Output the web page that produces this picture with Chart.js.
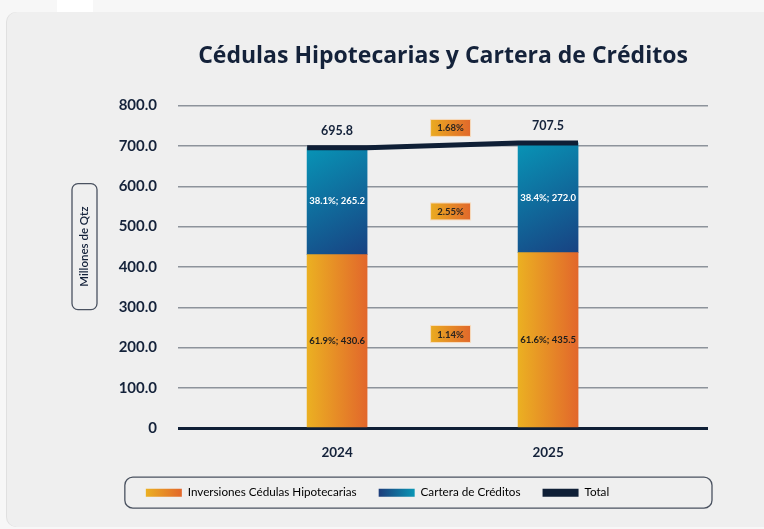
<!DOCTYPE html>
<html lang="es">
<head>
<meta charset="utf-8">
<title>Cédulas Hipotecarias y Cartera de Créditos</title>
<script src="https://cdn.jsdelivr.net/npm/chart.js@4.4.1/dist/chart.umd.min.js"></script>
<style>
  html, body { margin: 0; padding: 0; background: #f7f7f7; }
  body { width: 764px; height: 529px; position: relative; overflow: hidden; }
  .tab { position: absolute; left: 57px; top: 0; width: 36px; height: 12px; background: #ffffff; }
  .card { position: absolute; left: 7px; top: 12px; width: 780px; height: 515px; background: #efefef;
          border-radius: 10px; box-shadow: -1px 0 0 #e0e0e0; }
  #chart-wrap { position: absolute; left: 0; top: 0; width: 764px; height: 529px; }
</style>
</head>
<body>
<div class="tab"></div>
<div class="card"></div>
<div id="chart-wrap"><canvas id="cedulasChart" width="764" height="529"></canvas></div>
<script>
// --- data ---
const years = ['2024', '2025'];
const inversiones = [430.6, 435.5];
const cartera = [265.2, 272.0];
const totals = [695.8, 707.5];
const inversionesShare = ['61.9%', '61.6%'];
const carteraShare = ['38.1%', '38.4%'];
// year-on-year growth: inversiones, cartera, total
const growthLabels = ['1.14%', '2.55%', '1.68%'];
const yMax = 800;
const yStep = 100;

// --- style ---
const NAVY = '#14223a';
const TOTAL_COLOR = '#0f1f36';
const BAR_W = 60;
const BAR_HALF_UNITS = 0.142;   // half bar width expressed in x units
const X_PAD = [0.754, 0.758];

Chart.defaults.font.family = 'Lato, "Noto Sans", sans-serif';
Chart.defaults.color = NAVY;

function barFill(context, kind) {
    const chart = context.chart;
    const xs = chart.scales.x;
    const ys = chart.scales.y;
    if (!chart.chartArea || !xs || !ys) return kind === 'inv' ? '#e68c26' : '#12679a';
    const c = chart.ctx;
    const cx = xs.getPixelForValue(context.dataIndex);
    const left = cx - BAR_W / 2;
    const right = cx + BAR_W / 2;
    let g;
    if (kind === 'inv') {
        g = c.createLinearGradient(left, 0, right, 0);
        g.addColorStop(0, '#ebb022');
        g.addColorStop(1, '#e2672b');
    } else {
        const i = context.dataIndex;
        const top = ys.getPixelForValue(totals[i]);
        const base = ys.getPixelForValue(inversiones[i]);
        g = c.createLinearGradient(left, top, right, base);
        g.addColorStop(0, '#0894b6');
        g.addColorStop(1, '#184282');
    }
    return g;
}

// total line runs across the top of each bar and between them
const totalPoints = [];
totals.forEach((t, i) => {
    totalPoints.push({ x: i - BAR_HALF_UNITS, y: t });
    totalPoints.push({ x: i + BAR_HALF_UNITS, y: t });
});

const decorPlugin = {
    id: 'decor',
    afterUpdate(chart) {
        const lg = chart.legend;
        if (!lg || !lg.legendItems) return;
        const c = chart.ctx;
        const bw = lg.options.labels.boxWidth;
        lg.legendItems.forEach((item, i) => {
            const hb = lg.legendHitBoxes[i];
            if (!hb) return;
            if (item.datasetIndex === 0) {
                const g = c.createLinearGradient(hb.left, 0, hb.left + bw, 0);
                g.addColorStop(0, '#ebb022');
                g.addColorStop(1, '#e2672b');
                item.fillStyle = g;
            } else if (item.datasetIndex === 1) {
                const g = c.createLinearGradient(hb.left, 0, hb.left + bw, 0);
                g.addColorStop(0, '#1d3d7b');
                g.addColorStop(1, '#0a96b5');
                item.fillStyle = g;
            }
        });
    },
    beforeDraw(chart) {
        const c = chart.ctx;
        const area = chart.chartArea;
        // y axis title in a rounded box
        const bx = area.left - 106, by = area.top + 78, bw = 25, bh = 126;
        c.save();
        c.beginPath();
        c.roundRect(bx, by, bw, bh, 6);
        c.lineWidth = 1.3;
        c.strokeStyle = '#4a5260';
        c.stroke();
        c.translate(bx + bw / 2, by + bh / 2);
        c.rotate(-Math.PI / 2);
        c.font = '600 11.5px Lato, sans-serif';
        c.fillStyle = NAVY;
        c.textAlign = 'center';
        c.textBaseline = 'middle';
        c.fillText('Millones de Qtz', 0, 0);
        c.restore();
        // legend frame
        const lg = chart.legend;
        if (lg && lg.legendHitBoxes.length) {
            const first = lg.legendHitBoxes[0];
            const fx = first.left - 21;
            const fy = first.top + first.height / 2 - 15.5;
            c.save();
            c.beginPath();
            c.roundRect(fx, fy, area.right + 4 - fx, 31, 8);
            c.lineWidth = 1.3;
            c.strokeStyle = '#4a5260';
            c.stroke();
            c.restore();
        }
    },
    afterDatasetsDraw(chart) {
        const c = chart.ctx;
        const xs = chart.scales.x;
        const ys = chart.scales.y;
        c.save();
        c.textAlign = 'center';
        c.textBaseline = 'middle';
        // segment labels
        const segs = [
            { idx: 0, values: inversiones, share: inversionesShare, color: '#1d1d1d' },
            { idx: 1, values: cartera, share: carteraShare, color: '#ffffff' }
        ];
        c.font = 'bold 9.5px Lato, sans-serif';
        segs.forEach(s => {
            chart.getDatasetMeta(s.idx).data.forEach((bar, i) => {
                c.fillStyle = s.color;
                c.fillText(s.share[i] + '; ' + s.values[i].toFixed(1), bar.x, (bar.y + bar.base) / 2);
            });
        });
        // totals above the bars
        c.font = 'bold 12.5px Lato, sans-serif';
        c.fillStyle = NAVY;
        totals.forEach((t, i) => {
            c.fillText(t.toFixed(1), xs.getPixelForValue(i), ys.getPixelForValue(t) - 17);
        });
        // growth badges between the bars
        const mid = (arr, base) => arr.reduce((s, v, i) => s + (base ? base[i] : 0) + v / 2, 0) / arr.length;
        const anchors = [
            ys.getPixelForValue(mid(inversiones)) - 7,
            ys.getPixelForValue(mid(cartera, inversiones)) + 12,
            ys.getPixelForValue(Math.max(...totals)) - 15
        ];
        const gx = xs.getPixelForValue(0.5) + 8;
        c.font = 'bold 9.5px Lato, sans-serif';
        growthLabels.forEach((txt, k) => {
            const y = anchors[k];
            const w = 40, h = 17;
            const g = c.createLinearGradient(gx - w / 2, 0, gx + w / 2, 0);
            g.addColorStop(0, '#eaab21');
            g.addColorStop(1, '#e1682b');
            c.fillStyle = g;
            c.fillRect(gx - w / 2, y - h / 2, w, h);
            c.strokeStyle = '#f6dcc0';
            c.lineWidth = 1;
            c.strokeRect(gx - w / 2, y - h / 2, w, h);
            c.fillStyle = '#2a2520';
            c.fillText(txt, gx, y + 0.5);
        });
        c.restore();
    }
};

const ctx = document.getElementById('cedulasChart');
new Chart(ctx, {
    type: 'bar',
    data: {
        datasets: [{
            label: 'Inversiones Cédulas Hipotecarias',
            data: inversiones.map((v, i) => ({ x: i, y: v })),
            backgroundColor: c => barFill(c, 'inv'),
            barThickness: BAR_W,
            stack: 'main',
            order: 1
        }, {
            label: 'Cartera de Créditos',
            data: cartera.map((v, i) => ({ x: i, y: v })),
            backgroundColor: c => barFill(c, 'car'),
            barThickness: BAR_W,
            stack: 'main',
            order: 1
        }, {
            type: 'line',
            label: 'Total',
            data: totalPoints,
            borderColor: TOTAL_COLOR,
            backgroundColor: TOTAL_COLOR,
            borderWidth: 5,
            pointRadius: 0,
            tension: 0,
            order: 0
        }]
    },
    options: {
        responsive: false,
        animation: false,
        layout: { padding: { top: 10, left: 47, right: 56, bottom: 20.5 } },
        plugins: {
            title: {
                display: true,
                text: 'Cédulas Hipotecarias y Cartera de Créditos',
                fullSize: false,
                color: NAVY,
                font: { family: '"Open Sans", Lato, sans-serif', size: 23, weight: 'bold' },
                padding: { top: 33, bottom: 35 }
            },
            legend: {
                position: 'bottom',
                labels: {
                    boxWidth: 36,
                    boxHeight: 8,
                    padding: 22,
                    color: NAVY,
                    font: { size: 11.7 },
                    sort: (a, b) => a.datasetIndex - b.datasetIndex,
                    generateLabels(chart) {
                        return chart.data.datasets.map((ds, i) => ({
                            text: ds.label,
                            datasetIndex: i,
                            fillStyle: i === 2 ? TOTAL_COLOR : '#888',
                            strokeStyle: 'rgba(0,0,0,0)',
                            lineWidth: 0,
                            hidden: false
                        }));
                    }
                }
            },
            tooltip: { enabled: false }
        },
        scales: {
            x: {
                type: 'linear',
                offset: false,
                min: -X_PAD[0],
                max: years.length - 1 + X_PAD[1],
                stacked: true,
                grid: { display: false, drawTicks: false },
                border: { display: false },
                afterBuildTicks: axis => {
                    axis.ticks = years.map((_, i) => ({ value: i }));
                },
                afterFit: axis => { axis.height = 36.5; },
                ticks: {
                    padding: 16,
                    maxRotation: 0,
                    minRotation: 0,
                    color: NAVY,
                    font: { size: 13.5, weight: 'bold' },
                    callback: v => years[v]
                }
            },
            y: {
                stacked: true,
                min: 0,
                max: yMax,
                border: { display: false },
                afterFit: axis => { axis.width = 131; },
                grid: {
                    drawTicks: false,
                    color: c => c.tick.value === 0 ? TOTAL_COLOR : '#8d939b',
                    lineWidth: c => c.tick.value === 0 ? 3 : 1.5
                },
                ticks: {
                    stepSize: yStep,
                    padding: 21,
                    color: NAVY,
                    font: { size: 15, weight: 'bold' },
                    callback: v => v === 0 ? '0' : v.toFixed(1)
                }
            }
        }
    },
    plugins: [decorPlugin]
});
</script>
</body>
</html>
